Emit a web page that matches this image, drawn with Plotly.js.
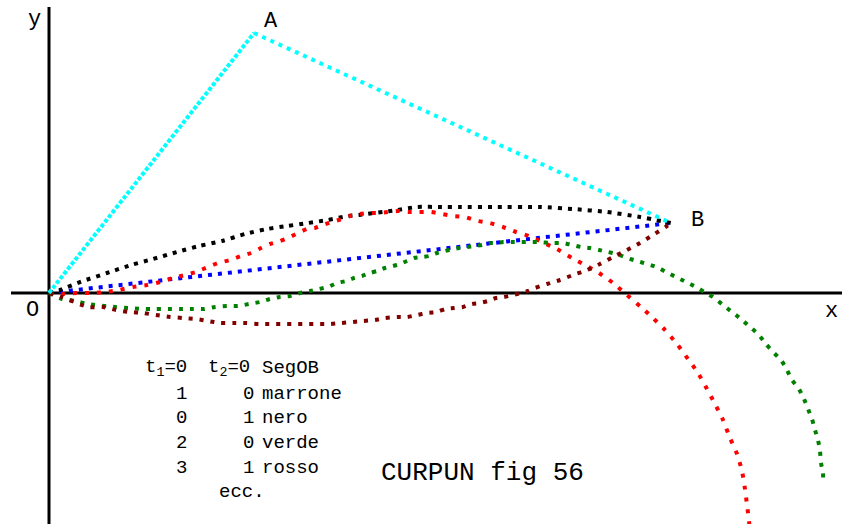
<!DOCTYPE html>
<html>
<head>
<meta charset="utf-8">
<script src="https://cdn.plot.ly/plotly-3.0.1.min.js"></script>
<style>html,body{margin:0;padding:0;background:#fff;}#chart{width:842px;height:524px;}</style>
</head>
<body>
<div id="chart"></div>
<script>
// Points of the control polygon (O, A, B), units: drawing units
const polyX = [0, 205, 622];
const polyY = [0, 260, 70];

// Segment OB (t1=0, t2=0) - blu
const segX = [0, 622];
const segY = [0, 70];

// t1=0, t2=1 - nero
const neroX = [0, 11, 34, 58, 82, 104, 128, 150, 173, 196, 218, 238, 259, 279, 299, 310, 348, 368, 393, 411, 444, 491, 524, 558, 591, 622];
const neroY = [0, 3, 12, 20, 28, 34, 41, 47, 52, 59, 64, 67, 70, 73, 77, 78, 83, 86, 86, 86, 86, 86, 84, 81, 76, 70];

// t1=3, t2=1 - rosso
const rossoX = [0, 13, 28, 43, 57, 70, 84, 98, 111, 124, 136, 147, 159, 169, 181, 192, 202, 212, 221, 231, 239, 249, 258, 266, 274, 283, 293, 301, 311, 319, 329, 339, 349, 359, 369, 382, 393, 404, 416, 429, 441, 454, 467, 480, 495, 508, 523, 536, 550, 564, 578, 592, 604, 616, 628, 639, 649, 658, 666, 674, 681, 688, 693, 696, 698, 700, 702];
const rossoY = [0, -1, 0, 0, 1, 3, 6, 8, 11, 15, 18, 21, 26, 30, 33, 37, 40, 45, 49, 52, 55, 60, 64, 65, 68, 71, 74, 77, 79, 80, 80, 81, 82, 81, 81, 81, 79, 77, 76, 72, 70, 66, 61, 57, 50, 44, 35, 28, 20, 10, -2, -14, -25, -37, -51, -66, -80, -96, -111, -127, -145, -161, -178, -196, -212, -228, -250];

// t1=2, t2=0 - verde
const verdeX = [0, 13, 26, 39, 66, 79, 93, 106, 119, 131, 144, 155, 166, 178, 189, 200, 211, 221, 231, 241, 251, 261, 270, 279, 288, 297, 305, 313, 321, 328, 336, 344, 351, 358, 365, 373, 380, 388, 396, 404, 410, 418, 426, 433, 440, 447, 454, 463, 471, 479, 488, 504, 514, 523, 532, 541, 550, 559, 568, 578, 588, 598, 608, 617, 627, 637, 647, 657, 664, 674, 683, 692, 701, 709, 717, 724, 732, 738, 743, 750, 755, 759, 763, 766, 769, 771, 772, 774, 774];
const verdeY = [0, -6, -8, -11, -14, -15, -16, -16, -16, -16, -16, -16, -14, -13, -13, -11, -9, -6, -4, -3, 0, 2, 4, 6, 10, 12, 15, 17, 20, 22, 25, 27, 29, 32, 35, 36, 37, 40, 42, 44, 45, 46, 47, 48, 50, 50, 51, 51, 51, 51, 51, 50, 50, 48, 46, 45, 43, 41, 39, 35, 32, 29, 26, 21, 16, 11, 6, 0, -4, -12, -19, -26, -34, -41, -51, -59, -67, -77, -87, -96, -106, -116, -126, -137, -147, -158, -170, -180, -191];

// t1=1, t2=0 - marrone
const marroneX = [0, 13, 39, 54, 67, 80, 94, 107, 121, 134, 147, 159, 171, 184, 197, 210, 223, 234, 246, 258, 269, 281, 292, 304, 314, 326, 336, 348, 358, 368, 378, 388, 396, 405, 414, 423, 431, 439, 447, 455, 464, 472, 479, 486, 498, 511, 524, 538, 551, 564, 578, 591, 604, 618, 622];
const marroneY = [0, -4, -14, -14, -17, -19, -20, -22, -24, -25, -26, -28, -30, -30, -30, -31, -31, -31, -31, -31, -31, -31, -30, -29, -28, -27, -25, -24, -24, -22, -20, -19, -16, -15, -14, -11, -10, -8, -5, -4, -2, 0, 2, 5, 9, 13, 18, 23, 29, 36, 43, 50, 58, 67, 70];

// Legend table
const legendT1 = ["1", "0", "2", "3"];
const legendT2 = ["0", "1", "0", "1"];
const legendNames = ["marrone", "nero", "verde", "rosso"];
const pointLabels = ["O", "A", "B"];

const MONO = "Liberation Mono, Courier New, monospace";

function curve(x, y, color, dash, width) {
  return {
    type: "scatter", mode: "lines", x: x, y: y,
    line: {color: color, width: width || 4, dash: dash, shape: "spline", smoothing: 0.6},
    hoverinfo: "skip", showlegend: false
  };
}

const traces = [
  curve(segX, segY, "#0000ff", "4px,6px"),
  curve(neroX, neroY, "#000000", "4px,6px"),
  curve(rossoX, rossoY, "#ff0000", "4px,8px"),
  curve(verdeX, verdeY, "#008000", "4px,7px"),
  curve(marroneX, marroneY, "#800000", "4px,7px"),
  curve(polyX.slice(0, 2), polyY.slice(0, 2), "#00ffff", "4px,2px"),
  curve(polyX.slice(1, 3), polyY.slice(1, 3), "#00ffff", "4px,5px")
];

function txt(x, y, text, size, xanchor) {
  return {x: x, y: y, xref: "x", yref: "y", text: text, showarrow: false,
    xanchor: xanchor || "center", yanchor: "middle",
    font: {family: MONO, size: size, color: "#000"}};
}

const ann = [];
// axis labels and point labels
ann.push(txt(-15, 274, "y", 22));
ann.push(txt(782, -18, "x", 22));
ann.push(txt(-17, -17, pointLabels[0], 22));
ann.push(txt(polyX[1] + 17, polyY[1] + 12, pointLabels[1], 22));
ann.push(txt(polyX[2] + 26, polyY[2] + 3, pointLabels[2], 22));
// legend header
const rowY = [-75, -101, -125, -150, -175];
ann.push(txt(94, rowY[0], "t<sub>1</sub>=0", 19, "left"));
ann.push(txt(157, rowY[0], "t<sub>2</sub>=0", 19, "left"));
ann.push(txt(211, rowY[0], "SegOB", 19, "left"));
for (let i = 0; i < legendNames.length; i++) {
  ann.push(txt(132, rowY[i + 1], legendT1[i], 19));
  ann.push(txt(199, rowY[i + 1], legendT2[i], 19));
  ann.push(txt(211, rowY[i + 1], legendNames[i], 19, "left"));
}
ann.push(txt(168, -199, "ecc.", 19, "left"));
ann.push(txt(433, -180, "CURPUN fig 56", 26));

const layout = {
  width: 842, height: 524,
  margin: {l: 0, r: 0, t: 0, b: 0, pad: 0},
  paper_bgcolor: "#ffffff", plot_bgcolor: "#ffffff",
  showlegend: false,
  xaxis: {range: [-49, 793], showgrid: false, zeroline: false, showticklabels: false, showline: false, ticks: "", fixedrange: true},
  yaxis: {range: [-231, 293], showgrid: false, zeroline: false, showticklabels: false, showline: false, ticks: "", fixedrange: true},
  shapes: [
    {type: "line", xref: "x", yref: "y", x0: -38, x1: 793, y0: 0, y1: 0, line: {color: "#000", width: 3}, layer: "below"},
    {type: "line", xref: "x", yref: "y", x0: 0, x1: 0, y0: -231, y1: 286, line: {color: "#000", width: 3}, layer: "below"}
  ],
  annotations: ann
};

Plotly.newPlot("chart", traces, layout, {displayModeBar: false, staticPlot: true});
</script>
</body>
</html>
